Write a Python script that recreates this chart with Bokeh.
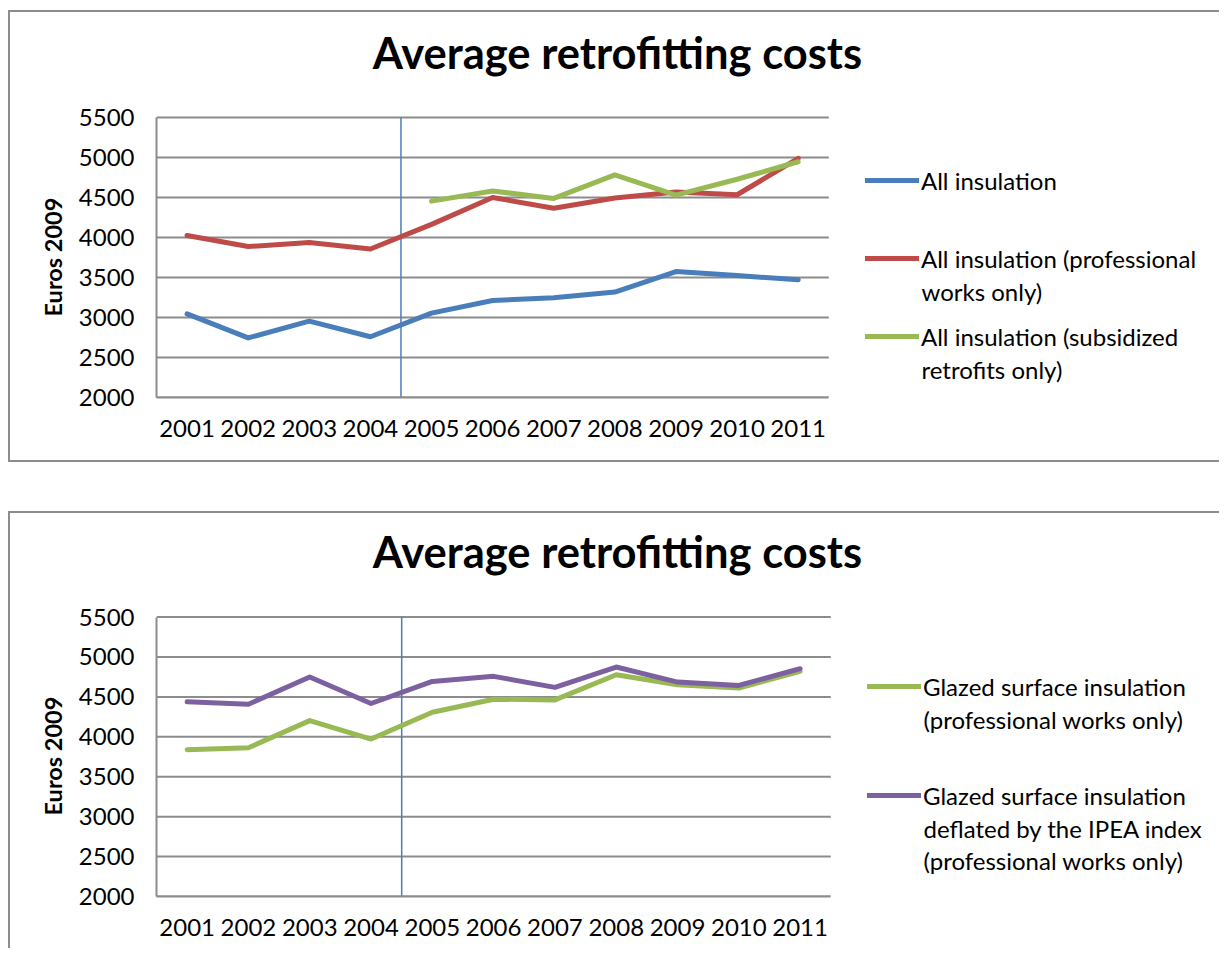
from bokeh.plotting import figure
from bokeh.models import (Range1d, FixedTicker, Legend, LegendItem, Label, Title)
from bokeh.layouts import column
from bokeh.embed import file_html
from bokeh.resources import INLINE

# ---------------- data ----------------
years = [2001, 2002, 2003, 2004, 2005, 2006, 2007, 2008, 2009, 2010, 2011]
year_labels = ["2001", "2002", "2003", "2004", "2005", "2006", "2007", "2008", "2009", "2010", "2011"]
y_ticks = [2000, 2500, 3000, 3500, 4000, 4500, 5000, 5500]
break_after = 2004

all_insulation = [3045, 2745, 2955, 2760, 3055, 3213, 3247, 3318, 3575, 3525, 3472]
all_professional = [4026, 3887, 3937, 3857, 4165, 4500, 4367, 4495, 4569, 4535, 4990]
subsidized_years = [2005, 2006, 2007, 2008, 2009, 2010, 2011]
all_subsidized = [4455, 4582, 4489, 4784, 4531, 4729, 4948]

glazed_professional = [3838, 3863, 4203, 3972, 4308, 4471, 4462, 4777, 4651, 4610, 4820]
glazed_ipea = [4438, 4408, 4748, 4417, 4694, 4757, 4619, 4874, 4685, 4644, 4853]

title_text = "Average retrofitting costs"
y_label = "Euros 2009"

# (legend text lines, x, y, colour)
top_series = [
    (["All insulation"], years, all_insulation, "#4A7EBB"),
    (["All insulation (professional", "works only)"], years, all_professional, "#BE4B48"),
    (["All insulation (subsidized", "retrofits only)"], subsidized_years, all_subsidized, "#98B954"),
]
bottom_series = [
    (["Glazed surface insulation", "(professional works only)"], years, glazed_professional, "#98B954"),
    (["Glazed surface insulation", "deflated by the IPEA index", "(professional works only)"],
     years, glazed_ipea, "#7D60A0"),
]

FONT = "Lato"
GRID = "#8C8C8C"
BORDER = "2px solid #8C8C8C"

FRAME_W = 1058     # whole drawing area (plot + legend)
FRAME_H = 379
LEG_LINE = 32      # legend line pitch in px


def make_chart(series, data_w, data_h, border_bottom, legend_x, legend_tops, styles):
    x_lo = years[0] - 0.5
    x_hi = years[-1] + 0.5
    x_end = x_lo + (x_hi - x_lo) * FRAME_W / data_w
    y_lo, y_hi = y_ticks[0], y_ticks[-1]
    y_end = y_lo + (y_hi - y_lo) * FRAME_H / data_h

    p = figure(frame_width=FRAME_W, frame_height=FRAME_H,
               output_backend="svg", toolbar_location=None,
               x_range=Range1d(x_lo, x_end), y_range=Range1d(y_lo, y_end),
               min_border_left=146, min_border_right=5,
               min_border_top=2, min_border_bottom=border_bottom)
    p.styles = styles
    p.outline_line_color = None
    p.background_fill_color = "white"
    p.border_fill_color = "white"
    p.title.text = ""
    p.title.standoff = 0
    p.xgrid.grid_line_color = None
    p.ygrid.grid_line_color = None

    # horizontal grid lines over the plotting area only
    n = len(y_ticks)
    p.segment(x0=[x_lo] * n, x1=[x_hi] * n, y0=y_ticks, y1=y_ticks,
              line_color=GRID, line_width=2)

    p.yaxis.ticker = FixedTicker(ticks=y_ticks)
    p.yaxis.bounds = (y_lo, y_hi)
    p.xaxis.ticker = FixedTicker(ticks=years)
    p.xaxis.major_label_overrides = dict(zip(years, year_labels))
    p.xaxis.bounds = (x_lo, x_hi)
    for ax in (p.xaxis[0], p.yaxis[0]):
        ax.axis_line_color = GRID
        ax.axis_line_width = 2
        ax.major_tick_line_color = None
        ax.minor_tick_line_color = None
        ax.major_label_text_font = FONT
        ax.major_label_text_font_size = "24px"
        ax.major_label_text_color = "black"
    p.yaxis.major_label_standoff = 16
    p.xaxis.major_label_standoff = 16

    # y axis title
    p.add_layout(Title(text=y_label, align="left", offset=81, vertical_align="bottom",
                       standoff=17, text_font=FONT, text_font_style="bold",
                       text_font_size="23.5px", text_color="black"), "left")

    # vertical separator between 2004 and 2005
    p.segment(x0=[break_after + 0.5], x1=[break_after + 0.5], y0=[y_lo], y1=[y_hi],
              line_color="#4A7EBB", line_width=1.5)

    # chart title
    p.add_layout(Label(x=461, y=346, x_units="screen", y_units="screen", text=title_text,
                       text_align="center", text_baseline="alphabetic",
                       text_font=FONT, text_font_style="bold", text_font_size="43.5px",
                       text_color="black"))

    # legend: key + first line as a Legend, further lines as labels below it
    for (lines, xs, ys, color), top in zip(series, legend_tops):
        r = p.line(xs, ys, line_color=color, line_width=5, line_join="round", line_cap="round")
        lg = Legend(items=[LegendItem(label=lines[0], renderers=[r])],
                    location=(legend_x, top - 14.5 + 3),
                    orientation="vertical", padding=0, margin=0, spacing=0,
                    border_line_color=None, background_fill_alpha=0,
                    glyph_width=54, glyph_height=20, label_standoff=2,
                    label_text_font=FONT, label_text_font_size="24px",
                    label_text_color="black")
        p.add_layout(lg)
        for k, extra in enumerate(lines[1:], start=1):
            p.add_layout(Label(x=legend_x + 56, y=top - k * LEG_LINE + 2,
                               x_units="screen", y_units="screen", text=extra,
                               text_align="left", text_baseline="middle",
                               text_font=FONT, text_font_size="24px", text_color="black"))
    return p


# legend_tops: height of each entry's first text line above the plot bottom (px)
top = make_chart(top_series, 671, 277, 67, 709, [214, 136, 58],
                 {"border-left": BORDER, "border-top": BORDER, "border-bottom": BORDER})
bottom = make_chart(bottom_series, 673, 278, 54, 711, [207, 98],
                    {"border-left": BORDER, "border-top": BORDER})
top.margin = (10, 0, 0, 8)
bottom.margin = (49, 0, 0, 8)

layout = column(top, bottom, spacing=0)
open("out.html", "w").write(file_html(layout, INLINE))
